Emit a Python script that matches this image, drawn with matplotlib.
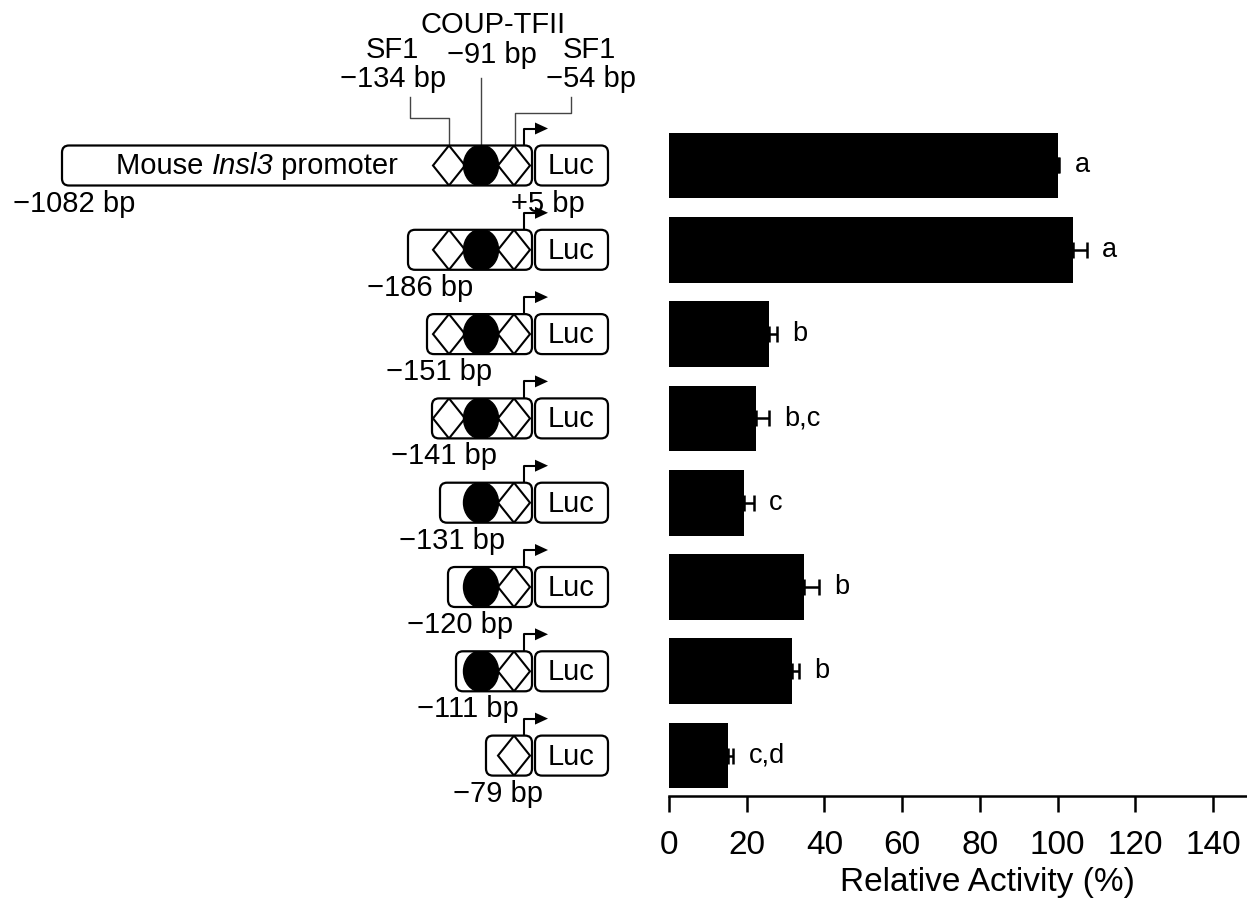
import matplotlib
matplotlib.use('Agg')
import matplotlib.pyplot as plt
import numpy as np
from matplotlib.patches import FancyBboxPatch, Ellipse, Polygon

# data
constructs = ['\u22121082 bp', '\u2212186 bp', '\u2212151 bp', '\u2212141 bp',
              '\u2212131 bp', '\u2212120 bp', '\u2212111 bp', '\u221279 bp']
start_bp = [-1082, -186, -151, -141, -131, -120, -111, -79]
activity = [100, 104, 25.7, 22.4, 19.3, 34.7, 31.6, 15.2]
sem = [0.5, 3.5, 2.1, 3.3, 2.6, 3.9, 1.9, 1.4]
groups = ['a', 'a', 'b', 'b,c', 'c', 'b', 'b', 'c,d']
sf1_up, coup_site, sf1_down = -134, -91, -54

plt.rcParams['font.family'] = 'Liberation Sans'

W, H = 1247, 899
fig = plt.figure(figsize=(W / 100, H / 100), dpi=100)

# layout (pixels)
row_y0, row_dy = 165.5, 84.3
n = len(activity)
ax_left, ax_right, ax_bottom = 669, 1246, 796
ax_top = row_y0 - 0.5 * row_dy
ymax = (ax_bottom - row_y0) / row_dy

# schematic on the left, drawn in pixel units
dax = fig.add_axes([0, 0, 1, 1])
dax.set_xlim(0, W)
dax.set_ylim(H, 0)
dax.axis('off')

box_left = [62, 408, 427, 432, 440, 448, 456, 486]
prom_end = 532
luc_x0, luc_x1 = 535, 608
site_x = {sf1_up: 449, coup_site: 481, sf1_down: 514}
bh = 40
fs = 21

for i in range(n):
    cy = row_y0 + i * row_dy
    top = cy - bh / 2
    left = box_left[i]
    box = FancyBboxPatch((left, top), prom_end - left, bh,
                         boxstyle='round,pad=0,rounding_size=7',
                         fc='white', ec='none', zorder=1)
    dax.add_patch(box)
    items = []
    for s in (sf1_up, sf1_down):
        if start_bp[i] < s:
            sx = site_x[s]
            d = Polygon([(sx - 16, cy), (sx, top), (sx + 16, cy), (sx, top + bh)],
                        closed=True, fc='white', ec='black', lw=1.5, zorder=2)
            items.append(d)
    if start_bp[i] < coup_site:
        items.append(Ellipse((site_x[coup_site], cy), 35, bh + 1, fc='black',
                             ec='black', zorder=3))
    for it in items:
        dax.add_patch(it)
        it.set_clip_path(box)
    outline = FancyBboxPatch((left, top), prom_end - left, bh,
                             boxstyle='round,pad=0,rounding_size=7',
                             fc='none', ec='black', lw=1.6, zorder=4)
    dax.add_patch(outline)
    luc = FancyBboxPatch((luc_x0, top), luc_x1 - luc_x0, bh,
                         boxstyle='round,pad=0,rounding_size=7',
                         fc='white', ec='black', lw=1.6, zorder=4)
    dax.add_patch(luc)
    dax.text((luc_x0 + luc_x1) / 2, cy + 1, 'Luc', ha='center', va='center',
             fontsize=fs, zorder=5)
    # transcription start arrow
    dax.plot([524, 524, 538], [top, top - 17, top - 17], color='black',
             lw=1.5, zorder=5, solid_capstyle='butt')
    dax.add_patch(Polygon([(535, top - 23), (548, top - 17), (535, top - 11)],
                          closed=True, fc='black', ec='none', zorder=5))
    dax.text(left + 12, cy + 38, constructs[i], ha='center', va='center',
             fontsize=fs)

# first construct annotations
cy0 = row_y0
top0 = cy0 - bh / 2
renderer = fig.canvas.get_renderer()
xpos = 116
for part, style in [('Mouse ', 'normal'), ('Insl3', 'italic'), (' promoter', 'normal')]:
    t = dax.text(xpos, cy0, part, ha='left', va='center', fontsize=fs,
                 style=style, zorder=5)
    xpos += t.get_window_extent(renderer).width
dax.text(548, cy0 + 38, '+5 bp', ha='center', va='center', fontsize=fs)
lc = '#444444'
dax.plot([410, 410, site_x[sf1_up], site_x[sf1_up]], [97, 118, 118, top0],
         color=lc, lw=1.0, zorder=0)
dax.plot([site_x[coup_site]] * 2, [78, top0], color=lc, lw=1.0, zorder=0)
dax.plot([571, 571, site_x[sf1_down] + 1, site_x[sf1_down] + 1], [97, 113, 113, top0],
         color=lc, lw=1.0, zorder=0)
dax.text(392, 50, 'SF1', ha='center', va='center', fontsize=fs)
dax.text(393, 79, '\u2212134 bp', ha='center', va='center', fontsize=fs)
dax.text(493, 25, 'COUP-TFII', ha='center', va='center', fontsize=fs)
dax.text(492, 55, '\u221291 bp', ha='center', va='center', fontsize=fs)
dax.text(589, 50, 'SF1', ha='center', va='center', fontsize=fs)
dax.text(591, 79, '\u221254 bp', ha='center', va='center', fontsize=fs)

# bar chart
ax = fig.add_axes([ax_left / W, 1 - ax_bottom / H,
                   (ax_right - ax_left) / W, (ax_bottom - ax_top) / H])
ax.patch.set_alpha(0)
y = np.arange(n)
ax.barh(y, activity, height=0.78, color='black')
ax.errorbar(activity, y, xerr=[np.zeros(n), sem], fmt='none', ecolor='black',
            elinewidth=1.8, capsize=6, capthick=1.8)
for yi, v, e, g in zip(y, activity, sem, groups):
    ax.annotate(g, (v + e, yi), xytext=(11, 0), textcoords='offset points',
                ha='left', va='center', fontsize=19.5)
ax.set_xlim(0, 148.5)
ax.set_ylim(ymax, -0.5)
for s in ['top', 'right', 'left']:
    ax.spines[s].set_visible(False)
ax.spines['bottom'].set_linewidth(1.8)
ax.set_yticks([])
ax.set_xticks(np.arange(0, 141, 20))
ax.tick_params(axis='x', direction='out', length=11.5, width=1.8,
               labelsize=24, pad=13)
ax.set_xlabel('Relative Activity (%)', fontsize=24, va='center')
ax.xaxis.set_label_coords((987 - ax_left) / (ax_right - ax_left),
                          -(883 - ax_bottom) / (ax_bottom - ax_top))

plt.savefig('out.png', dpi=100)
